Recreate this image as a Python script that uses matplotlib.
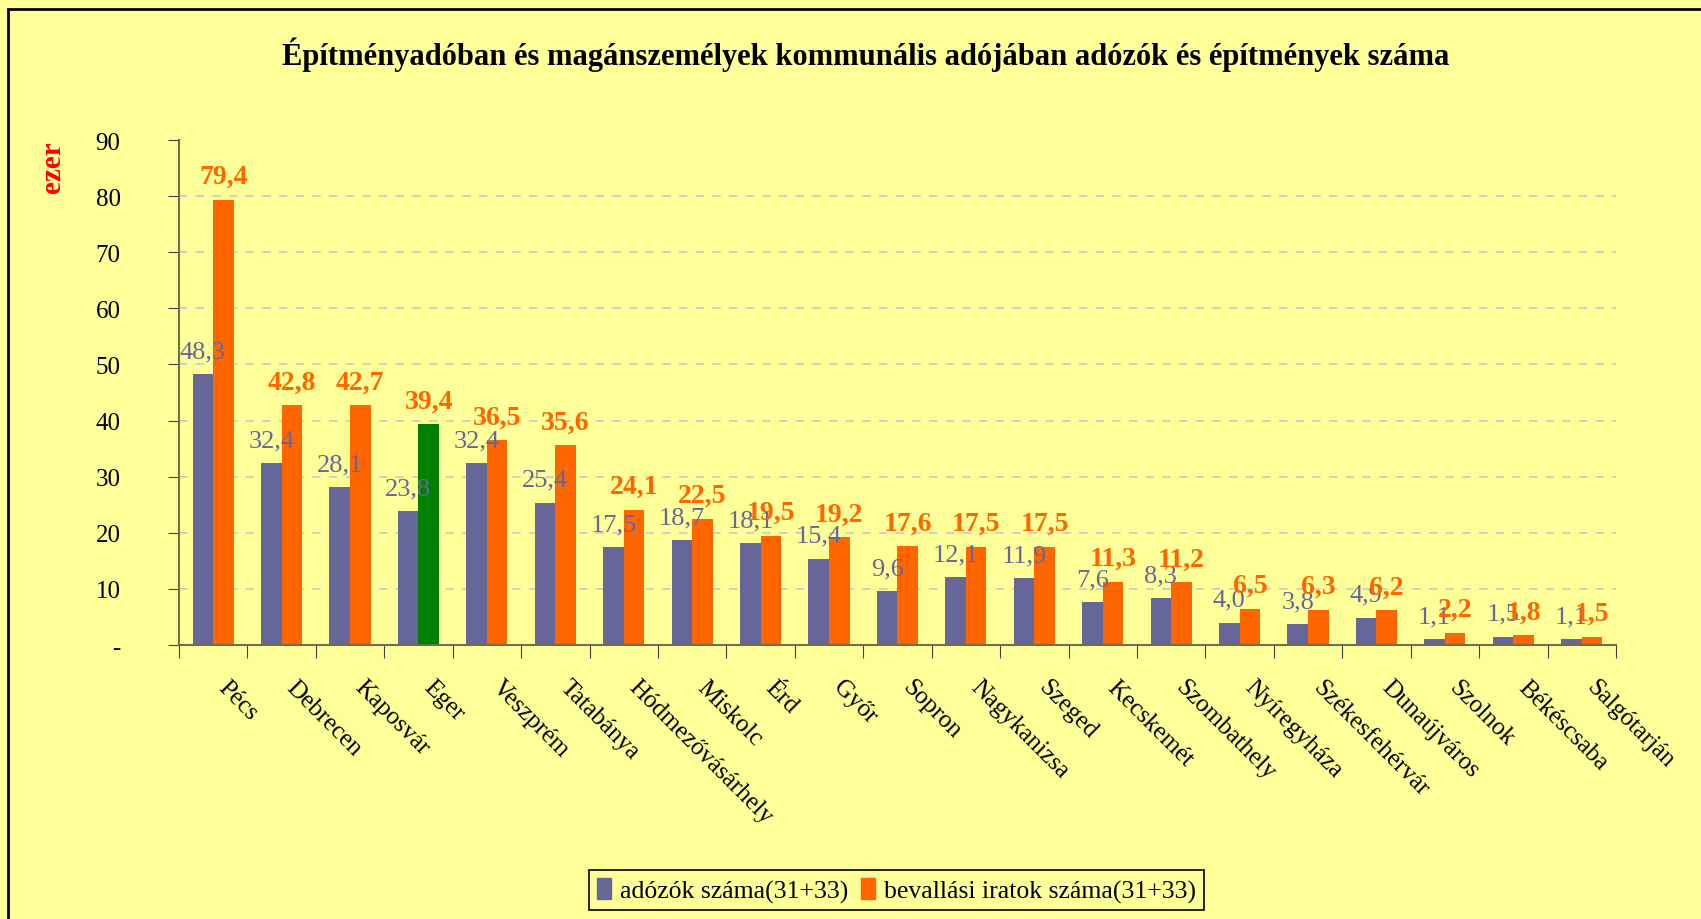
import matplotlib
matplotlib.use('Agg')
import matplotlib.pyplot as plt
from matplotlib.patches import Rectangle
from matplotlib.transforms import ScaledTranslation
import numpy as np

plt.rcParams['font.family'] = ['Liberation Serif', 'DejaVu Serif']

cities = ['Pécs', 'Debrecen', 'Kaposvár', 'Eger', 'Veszprém', 'Tatabánya',
          'Hódmezővásárhely', 'Miskolc', 'Érd', 'Győr', 'Sopron', 'Nagykanizsa',
          'Szeged', 'Kecskemét', 'Szombathely', 'Nyíregyháza', 'Székesfehérvár',
          'Dunaújváros', 'Szolnok', 'Békéscsaba', 'Salgótarján']
adozok = [48.3, 32.4, 28.1, 23.8, 32.4, 25.4, 17.5, 18.7, 18.1, 15.4, 9.6,
          12.1, 11.9, 7.6, 8.3, 4.0, 3.8, 4.9, 1.1, 1.5, 1.1]
bevallasi = [79.4, 42.8, 42.7, 39.4, 36.5, 35.6, 24.1, 22.5, 19.5, 19.2, 17.6,
             17.5, 17.5, 11.3, 11.2, 6.5, 6.3, 6.2, 2.2, 1.8, 1.5]
highlight = 'Eger'
yticks = [0, 10, 20, 30, 40, 50, 60, 70, 80, 90]
ytick_labels = ['-', '10', '20', '30', '40', '50', '60', '70', '80', '90']

title = 'Építményadóban és magánszemélyek kommunális adójában adózók és építmények száma'
label_a = 'adózók száma(31+33)'
label_b = 'bevallási iratok száma(31+33)'

bg = '#FFFF99'
blue = '#666699'
orange = '#FF6600'
green = '#008000'

def fmt(v):
    return ('%.1f' % v).replace('.', ',')

fig = plt.figure(figsize=(17.01, 9.2), dpi=100, facecolor=bg)
fig.patches.append(Rectangle((8 / 1701, -0.1), 1.1, 1 - 10 / 920 + 0.1,
                             transform=fig.transFigure, fill=False,
                             edgecolor='black', linewidth=2))
ax = fig.add_axes([0.1052, 0.2978, 0.8448, 0.5489])
ax.set_facecolor(bg)

x = np.arange(len(cities))
w = 0.30
col_b = [green if c == highlight else orange for c in cities]
ax.bar(x - w / 2, adozok, w, color=blue, label=label_a, zorder=2)
ax.bar(x + w / 2, bevallasi, w, color=col_b, label=label_b, zorder=2)

for xi, v in zip(x, adozok):
    ax.annotate(fmt(v), (xi - w / 2, v), xytext=(0, 12), textcoords='offset points',
                ha='center', va='baseline', fontsize=19, color=blue, zorder=3)
for xi, v in zip(x, bevallasi):
    ax.annotate(fmt(v), (xi + w / 2, v), xytext=(0, 12), textcoords='offset points',
                ha='center', va='baseline', fontsize=20, color=orange,
                fontweight='bold', zorder=4)

# dashed gridlines (not at 0 and 90)
for t in yticks[1:-1]:
    ax.axhline(t, color='#C8C8C8', linestyle=(0, (5, 5)), linewidth=1.2, zorder=1)

ax.set_xlim(-0.5, len(cities) - 0.5)
ax.set_ylim(0, 90)
ax.set_yticks(yticks)
ax.set_yticklabels(ytick_labels, fontsize=18)
ax.set_xticks(np.arange(len(cities) + 1) - 0.5)
ax.set_xticklabels([])
ax.set_xticks(x, minor=True)
ax.set_xticklabels(cities, minor=True, rotation=-45, ha='left', va='top',
                   rotation_mode='anchor', fontsize=18)
ax.tick_params(axis='x', which='minor', length=0, pad=22)
ax.tick_params(axis='x', which='major', length=9, direction='out', color='#404040')
ax.tick_params(axis='y', length=8, direction='out', color='#404040', pad=34)
shift = ScaledTranslation(16 / 100, 0, fig.dpi_scale_trans)
for lbl in ax.get_xticklabels(minor=True):
    lbl.set_transform(lbl.get_transform() + shift)
for s in ['top', 'right']:
    ax.spines[s].set_visible(False)
for s in ['left', 'bottom']:
    ax.spines[s].set_color('#6E6E50')
    ax.spines[s].set_linewidth(1.5)

fig.text(0.509, 0.941, title, ha='center', va='center', fontsize=22, fontweight='bold')
fig.text(0.0306, 0.8185, 'ezer', rotation=90, ha='center', va='center', fontsize=21,
         fontweight='bold', color='red')

handles = [Rectangle((0, 0), 1, 1, color=blue), Rectangle((0, 0), 1, 1, color=orange)]
leg = fig.legend(handles, [label_a, label_b], loc='center', bbox_to_anchor=(0.527, 0.031),
                 ncol=2, fontsize=18.5, frameon=True, fancybox=False, edgecolor='black',
                 facecolor=bg, framealpha=1, handlelength=0.55, handleheight=0.85,
                 handletextpad=0.35, columnspacing=0.5, borderpad=0.3)
leg.get_frame().set_linewidth(1.2)

fig.savefig('out.png', dpi=100, facecolor=bg)
